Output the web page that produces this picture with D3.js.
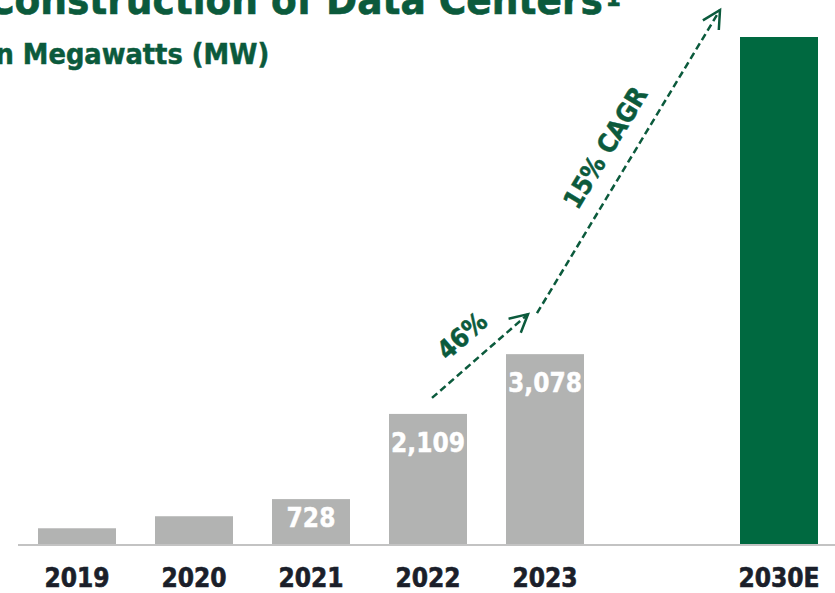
<!DOCTYPE html>
<html>
<head>
<meta charset="utf-8">
<script src="https://cdn.jsdelivr.net/npm/d3@7"></script>
<style>
  body { margin: 0; background: #fff; }
  svg { display: block; }
  text { font-family: 'DejaVu Sans Condensed', 'DejaVu Sans', sans-serif; font-weight: bold; }
</style>
</head>
<body>
<script>
let years = ['2019', '2020', '2021', '2022', '2023', '', '2030E'];
let megawatts = [255, 450, 728, 2109, 3078, null, 8220];
let valueLabels = ['', '', '728', '2,109', '3,078', '', ''];
let growthLabels = ['46%', '15% CAGR'];
let growthFrom = ['2022', '2023'];
let growthTo = ['2023', '2030E'];

let width = 835;
let height = 593;
let green = '#0b5a3c';
let baseY = 544;

let data = years.map(function(d, i) {
  return { year: d, value: megawatts[i], label: valueLabels[i] };
});

let svg = d3.select('body').append('svg')
    .attr('width', width)
    .attr('height', height);

let x = d3.scaleBand()
    .domain(years)
    .range([18.5, 837.5])
    .paddingInner(1 / 3)
    .paddingOuter(1 / 6);

let y = d3.scaleLinear()
    .domain([0, 8220])
    .range([baseY, 37]);

// title + subtitle, both cut at the page edge like the source slide
let title = svg.append('text')
    .attr('x', -13)
    .attr('y', 14)
    .attr('fill', green)
    .attr('stroke', green)
    .attr('stroke-width', 0.6)
    .style('font-size', '41.7px')
    .text('Construction of Data Centers');
title.append('tspan')
    .attr('dx', 3)
    .attr('dy', -8)
    .style('font-size', '24px')
    .text('1');

svg.append('text')
    .attr('x', -14)
    .attr('y', 64)
    .attr('fill', green)
    .attr('stroke', green)
    .attr('stroke-width', 0.5)
    .style('font-size', '28.6px')
    .text('In Megawatts (MW)');

// bars
svg.selectAll('.bar')
    .data(data.filter(function(d) { return d.value != null; }))
  .enter().append('rect')
    .attr('class', 'bar')
    .attr('x', function(d) { return x(d.year); })
    .attr('y', function(d) { return y(d.value); })
    .attr('width', x.bandwidth())
    .attr('height', function(d) { return y(0) - y(d.value); })
    .attr('fill', function(d) { return d.year == '2030E' ? '#006940' : '#b2b3b2'; });

// value labels inside the bars
svg.selectAll('.value')
    .data(data.filter(function(d) { return d.label; }))
  .enter().append('text')
    .attr('class', 'value')
    .attr('x', function(d) { return x(d.year) + x.bandwidth() / 2; })
    .attr('y', function(d) { return Math.min(y(d.value) + 38, y(0) - 17); })
    .attr('text-anchor', 'middle')
    .attr('fill', '#fff')
    .attr('stroke', '#fff')
    .attr('stroke-width', 0.4)
    .style('font-size', '26px')
    .text(function(d) { return d.label; });

// baseline
svg.append('line')
    .attr('x1', 18)
    .attr('x2', width)
    .attr('y1', y(0) + 1)
    .attr('y2', y(0) + 1)
    .attr('stroke', '#c3c3c3')
    .attr('stroke-width', 2);

// x axis labels
let xAxis = d3.axisBottom(x).tickSize(0).tickPadding(0);
let gx = svg.append('g')
    .attr('transform', 'translate(0,' + (y(0) + 43) + ')')
    .call(xAxis);
gx.select('.domain').remove();
gx.selectAll('text')
    .attr('dy', 0)
    .attr('fill', '#1b1f2a')
    .attr('stroke', '#1b1f2a')
    .attr('stroke-width', 0.6)
    .style('font-size', '26px')
    .style('font-family', "'DejaVu Sans Condensed', 'DejaVu Sans', sans-serif")
    .style('font-weight', 'bold');

// growth arrows
let valueOf = {};
data.forEach(function(d) { valueOf[d.year] = d.value; });
let mid = function(c) { return x(c) + x.bandwidth() / 2; };

let arrows = [
  { label: growthLabels[0],
    x1: mid(growthFrom[0]) + 4, y1: y(valueOf[growthFrom[0]]) - 16,
    x2: mid(growthTo[0]) - 17, y2: y(valueOf[growthTo[0]]) - 40 },
  { label: growthLabels[1],
    x1: mid(growthFrom[1]) - 8, y1: y(valueOf[growthFrom[1]]) - 41,
    x2: x(growthTo[1]) - 20, y2: y(valueOf[growthTo[1]]) - 27 }
];

arrows.forEach(function(a) {
  let ang = Math.atan2(a.y2 - a.y1, a.x2 - a.x1);
  let back = ang + Math.PI;
  let arm = 20;
  let spread = Math.PI / 6.5;
  svg.append('line')
      .attr('x1', a.x1).attr('y1', a.y1)
      .attr('x2', a.x2).attr('y2', a.y2)
      .attr('stroke', green)
      .attr('stroke-width', 2.5)
      .attr('stroke-dasharray', '7,4');
  svg.append('path')
      .attr('d', 'M' + (a.x2 + arm * Math.cos(back - spread)) + ',' + (a.y2 + arm * Math.sin(back - spread)) +
                 'L' + a.x2 + ',' + a.y2 +
                 'L' + (a.x2 + arm * Math.cos(back + spread)) + ',' + (a.y2 + arm * Math.sin(back + spread)))
      .attr('fill', 'none')
      .attr('stroke', green)
      .attr('stroke-width', 2.5);
  // label sits above the line, rotated along it
  let mx = (a.x1 + a.x2) / 2;
  let my = (a.y1 + a.y2) / 2;
  let off = 18;
  let lx = mx + off * Math.sin(ang);
  let ly = my - off * Math.cos(ang);
  let deg = ang * 180 / Math.PI;
  svg.append('text')
      .attr('transform', 'translate(' + lx + ',' + ly + ') rotate(' + deg + ')')
      .attr('text-anchor', 'middle')
      .attr('fill', green)
      .attr('stroke', green)
      .attr('stroke-width', 0.5)
      .style('font-size', '26px')
      .text(a.label);
});
</script>
</body>
</html>
